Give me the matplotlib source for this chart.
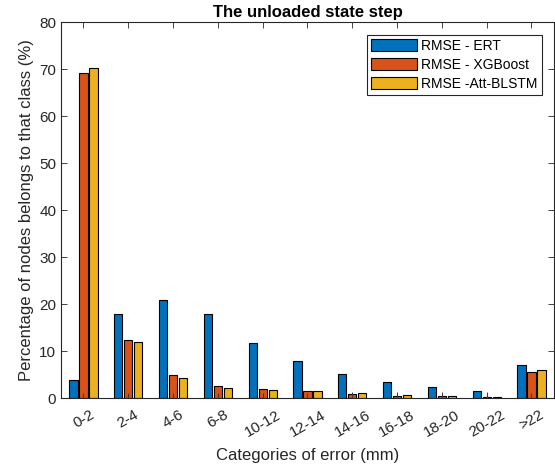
import matplotlib
matplotlib.use("Agg")
import matplotlib.pyplot as plt
import numpy as np

plt.rcParams['font.family'] = ['Liberation Sans', 'DejaVu Sans']

categories = ['0-2', '2-4', '4-6', '6-8', '10-12', '12-14', '14-16', '16-18', '18-20', '20-22', '>22']
ert = [3.8, 18.0, 20.8, 18.0, 11.7, 7.8, 5.1, 3.5, 2.3, 1.5, 7.0]
xgboost = [69.2, 12.4, 5.0, 2.5, 1.9, 1.4, 0.85, 0.45, 0.35, 0.2, 5.6]
att_blstm = [70.2, 11.9, 4.3, 2.2, 1.7, 1.4, 1.05, 0.6, 0.35, 0.2, 5.9]
spread = [1.1] * len(categories)

series = [ert, xgboost, att_blstm]
labels = ['RMSE - ERT', 'RMSE - XGBoost', 'RMSE -Att-BLSTM']
colors = ['#0072BD', '#D95319', '#EDB120']

fig = plt.figure(figsize=(5.55, 4.65), dpi=100)
ax = fig.add_axes([0.110, 0.144, 0.888, 0.808])

x = np.arange(1, len(categories) + 1)
pitch = 0.223
width = 0.185
for k, (vals, lab, col) in enumerate(zip(series, labels, colors)):
    ax.bar(x + (k - 1) * pitch, vals, width=width, color=col, edgecolor='black',
           linewidth=0.8, label=lab, zorder=2)

# small spread markers drawn on the middle series
ax.errorbar(x, np.zeros(len(x)), yerr=[np.zeros(len(x)), spread], fmt='none',
            ecolor='#3a3a3a', elinewidth=0.8, capsize=0, zorder=3)

ax.set_xlim(0.5, len(categories) + 0.5)
ax.set_ylim(0, 80)
ax.set_yticks(np.arange(0, 81, 10))
ax.set_xticks(x)
ax.set_xticklabels(categories, rotation=30, ha='center')
ax.tick_params(direction='in', top=True, right=True, labelsize=11, length=4,
               width=0.6, color='#262626', labelcolor='#262626')
ax.tick_params(axis='x', pad=7)
for s in ax.spines.values():
    s.set_linewidth(0.8)
    s.set_color('#262626')

ax.set_xlabel('Categories of error (mm)', fontsize=12, color='#262626', labelpad=6)
ax.set_ylabel('Percentage of nodes belongs to that class (%)', fontsize=12, color='#262626')
ax.set_title('The unloaded state step', fontsize=12, fontweight='bold', pad=4)

leg = ax.legend(loc='upper right', bbox_to_anchor=(0.975, 0.967), fontsize=10,
                handlelength=3.3, handleheight=1.0, handletextpad=0.3,
                labelspacing=0.35, borderpad=0.3, borderaxespad=0.0,
                fancybox=False, framealpha=1, edgecolor='#262626')
leg.get_frame().set_linewidth(0.8)

fig.savefig('out.png', dpi=100)
